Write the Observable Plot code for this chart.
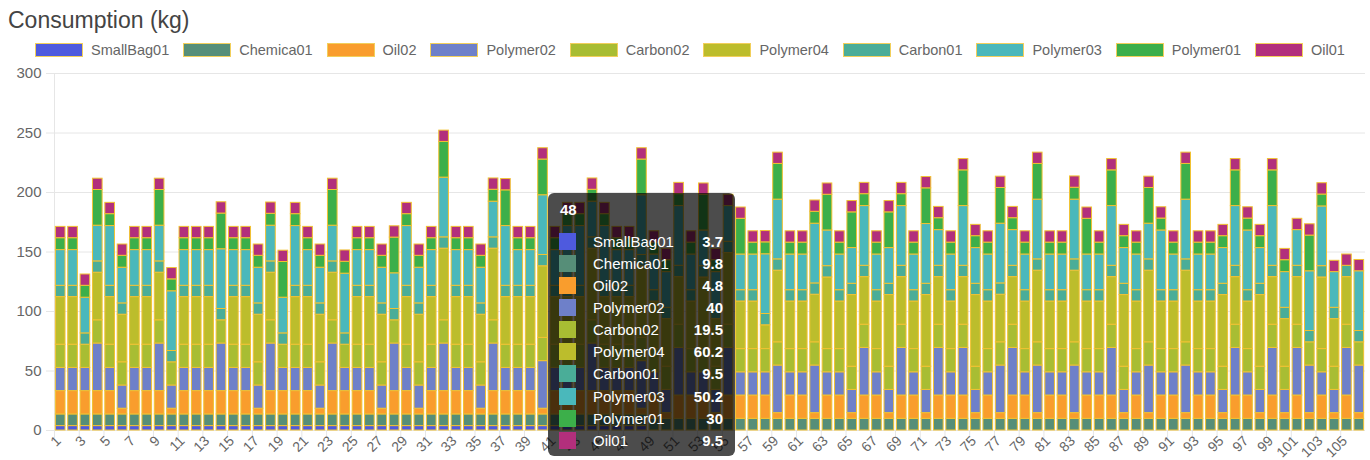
<!DOCTYPE html>
<html><head><meta charset="utf-8">
<script src="https://cdn.jsdelivr.net/npm/d3@7"></script>
<script src="https://cdn.jsdelivr.net/npm/@observablehq/plot@0.6"></script>
<style>
body{margin:0;background:#fff;font-family:"Liberation Sans",Arial,sans-serif;width:1370px;height:460px;overflow:hidden;position:relative}
#title{height:38px;line-height:40px;padding-left:8px;font-size:23px;color:#444}
#legend{height:24px;display:flex;justify-content:center;align-items:center;gap:14px;font-size:14.5px;color:#666;padding-left:10px}
.item{display:flex;align-items:center;gap:8px}
.sw{width:46px;height:12px;border:1px solid #f2cf5b}
#tip{position:absolute;left:548px;top:193px;width:187px;height:263px;background:rgba(0,0,0,0.7);border-radius:6px;color:#fff;font-size:15px}
#tip .t{position:absolute;left:12px;top:8px;line-height:17px;font-weight:bold}
#tip .row{position:absolute;left:0;width:187px;height:22px;display:flex;align-items:center}
#tip .row .s{position:absolute;left:11px;width:17px;height:17px}
#tip .row .l{position:absolute;left:45px}
#tip .row .v{position:absolute;right:12px;font-weight:bold}
#chart{position:absolute;left:0;top:62px}
</style></head><body>
<div id="title">Consumption (kg)</div>
<div id="legend"></div>
<div id="chart"></div>
<div id="tip"></div>
<script>
const categories = [1,2,3,4,5,6,7,8,9,10,11,12,13,14,15,16,17,18,19,20,21,22,23,24,25,26,27,28,29,30,31,32,33,34,35,36,37,38,39,40,41,42,43,44,45,46,47,48,49,50,51,52,53,54,55,56,57,58,59,60,61,62,63,64,65,66,67,68,69,70,71,72,73,74,75,76,77,78,79,80,81,82,83,84,85,86,87,88,89,90,91,92,93,94,95,96,97,98,99,100,101,102,103,104,105,106].map(String);
const tickLabels = [1,3,5,7,9,11,13,15,17,19,21,23,25,27,29,31,33,35,37,39,41,43,45,47,49,51,53,55,57,59,61,63,65,67,69,71,73,75,77,79,81,83,85,87,89,91,93,95,97,99,101,103,105].map(String);
const yTicks = [0,50,100,150,200,250,300];
const seriesNames = ["SmallBag01","Chemica01","Oil02","Polymer02","Carbon02","Polymer04","Carbon01","Polymer03","Polymer01","Oil01"];
const seriesColors = ["#4e5ade","#568e78","#f99d2d","#6e80c9","#a8bd33","#bcbd2c","#4aad98","#4ab8bb","#3caf4a","#b22f7c"];

const smallBag01 = [3.7,3.7,3.7,3.7,3.7,3.7,3.7,3.7,3.7,3.7, 3.7,3.7,3.7,3.7,3.7,3.7,3.7,3.7,3.7,3.7, 3.7,3.7,3.7,3.7,3.7,3.7,3.7,3.7,3.7,3.7, 3.7,3.7,3.7,3.7,3.7,3.7,3.7,3.7,3.7,3.7, 3.7,3.7,3.7,3.7,3.7,3.7,3.7,3.7,0,0, 0,0,0,0,0,0,0,0,0,0, 0,0,0,0,0,0,0,0,0,0, 0,0,0,0,0,0,0,0,0,0, 0,0,0,0,0,0,0,0,0,0, 0,0,0,0,0,0,0,0,0,0, 0,0,0,0,0,0];
const chemica01 = [9.8,9.8,9.8,9.8,9.8,9.8,9.8,9.8,9.8,9.8, 9.8,9.8,9.8,9.8,9.8,9.8,9.8,9.8,9.8,9.8, 9.8,9.8,9.8,9.8,9.8,9.8,9.8,9.8,9.8,9.8, 9.8,9.8,9.8,9.8,9.8,9.8,9.8,9.8,9.8,9.8, 9.8,9.8,9.8,9.8,9.8,9.8,9.8,9.8,9.8,9.8, 9.8,9.8,9.8,9.8,9.8,9.8,9.8,9.8,9.8,9.8, 9.8,9.8,9.8,9.8,9.8,9.8,9.8,9.8,9.8,9.8, 9.8,9.8,9.8,9.8,9.8,9.8,9.8,9.8,9.8,9.8, 9.8,9.8,9.8,9.8,9.8,9.8,9.8,9.8,9.8,9.8, 9.8,9.8,9.8,9.8,9.8,9.8,9.8,9.8,9.8,9.8, 9.8,9.8,9.8,9.8,9.8,9.8];
const oil02 = [19.6,19.6,19.6,19.6,19.6,4.8,19.6,19.6,19.6,4.8, 19.6,19.6,19.6,19.6,19.6,19.6,4.8,19.6,19.6,19.6, 19.6,4.8,19.6,19.6,19.6,19.6,4.8,19.6,19.6,4.8, 19.6,19.6,19.6,19.6,4.8,19.6,19.6,19.6,19.6,4.8, 19.6,19.6,19.6,19.6,19.6,19.6,19.6,4.8,19.6,4.8, 19.6,19.6,19.6,4.8,19.6,19.6,19.6,19.6,4.8,19.6, 19.6,4.8,19.6,19.6,4.8,19.6,19.6,4.8,19.6,19.6, 4.8,19.6,19.6,19.6,4.8,19.6,4.8,19.6,19.6,4.8, 19.6,19.6,4.8,19.6,19.6,19.6,4.8,19.6,4.8,19.6, 19.6,4.8,19.6,19.6,4.8,19.6,19.6,4.8,19.6,4.8, 19.6,4.8,19.6,4.8,19.6,4.8];
const polymer02 = [19.5,19.5,19.5,40,19.5,19.5,19.5,19.5,40,19.5, 19.5,19.5,19.5,40,19.5,19.5,19.5,40,19.5,19.5, 19.5,19.5,40,19.5,19.5,19.5,19.5,40,19.5,19.5, 19.5,40,19.5,19.5,19.5,40,19.5,19.5,19.5,40, 19.5,19.5,19.5,40,19.5,19.5,19.5,40,19.5,19.5, 40,19.5,19.5,19.5,40,19.5,19.5,19.5,40,19.5, 19.5,40,19.5,19.5,19.5,40,19.5,19.5,40,19.5, 19.5,40,19.5,40,19.5,19.5,40,40,19.5,40, 19.5,19.5,40,19.5,19.5,40,19.5,19.5,40,19.5, 19.5,40,19.5,19.5,19.5,40,19.5,19.5,40,19.5, 40,40,19.5,19.5,40,40];
const carbon02 = [19.5,19.5,19.5,19.5,19.5,19.5,19.5,19.5,19.5,19.5, 19.5,19.5,19.5,19.5,19.5,19.5,19.5,19.5,19.5,19.5, 19.5,19.5,19.5,19.5,19.5,19.5,19.5,19.5,19.5,19.5, 19.5,19.5,19.5,19.5,19.5,19.5,19.5,19.5,19.5,19.5, 19.5,19.5,19.5,19.5,19.5,19.5,19.5,19.5,19.5,19.5, 19.5,19.5,19.5,19.5,19.5,19.5,19.5,19.5,19.5,19.5, 19.5,19.5,19.5,19.5,19.5,19.5,19.5,19.5,19.5,19.5, 19.5,19.5,19.5,19.5,19.5,19.5,19.5,19.5,19.5,19.5, 19.5,19.5,19.5,19.5,19.5,19.5,19.5,19.5,19.5,19.5, 19.5,19.5,19.5,19.5,19.5,19.5,19.5,19.5,19.5,19.5, 19.5,19.5,19.5,19.5,19.5,19.5];
const polymer04 = [40,40,0,40,40,40,40,40,40,0, 40,40,40,0,40,40,40,40,0,40, 40,40,40,0,40,40,40,0,40,40, 40,60.2,40,40,40,60.2,40,40,40,60.2, 40,40,40,60.2,40,40,40,60.2,40,40, 40,40,60.2,40,60.2,40,40,20,60.2,40, 40,40,60.2,40,60.2,40,40,60.2,40,40, 60.2,40,40,40,60.2,40,40,40,40,60.2, 40,40,60.2,40,40,40,60.2,40,60.2,40, 40,60.2,40,40,60.2,40,40,60.2,40,40, 40,0,60.2,40,40,0];
const carbon01 = [9.5,9.5,9.5,9.5,9.5,9.5,9.5,9.5,9.5,9.5, 9.5,9.5,9.5,9.5,9.5,9.5,9.5,9.5,9.5,9.5, 9.5,9.5,9.5,9.5,9.5,9.5,9.5,9.5,9.5,9.5, 9.5,9.5,9.5,9.5,9.5,9.5,9.5,9.5,9.5,9.5, 9.5,9.5,9.5,9.5,9.5,9.5,9.5,9.5,9.5,9.5, 9.5,9.5,9.5,9.5,9.5,9.5,9.5,9.5,9.5,9.5, 9.5,9.5,9.5,9.5,9.5,9.5,9.5,9.5,9.5,9.5, 9.5,9.5,9.5,9.5,9.5,9.5,9.5,9.5,9.5,9.5, 9.5,9.5,9.5,9.5,9.5,9.5,9.5,9.5,9.5,9.5, 9.5,9.5,9.5,9.5,9.5,9.5,9.5,9.5,9.5,9.5, 9.5,9.5,9.5,9.5,9.5,9.5];
const polymer03 = [30,30,30,30,50.2,30,30,30,30,50.2, 30,30,30,50.2,30,30,30,30,30,50.2, 30,30,30,50.2,30,30,30,30,50.2,30, 30,50.2,30,30,30,30,50.2,30,30,50.2, 30,50.2,50.2,30,50.2,30,30,50.2,30,30, 50.2,30,30,30,30,30,30,50.2,50.2,30, 30,50.2,30,30,30,50.2,30,30,50.2,30, 50.2,30,30,50.2,30,30,50.2,30,30,50.2, 30,30,50.2,30,30,50.2,30,30,30,50.2, 30,50.2,30,30,30,50.2,50.2,30,50.2,30, 30,50.2,50.2,30,0,50.2];
const polymer01 = [10,10,10,30,10,10,10,10,30,10, 10,10,10,30,10,10,10,10,30,10, 10,10,30,10,10,10,10,30,10,10, 10,30,10,10,10,10,30,10,10,30, 10,10,10,10,10,10,10,30,10,10, 10,10,30,10,0,30,10,10,30,10, 10,10,30,10,30,10,10,30,10,10, 30,10,10,30,10,10,30,10,10,30, 10,10,10,30,10,30,10,10,30,10, 10,30,10,10,10,30,10,10,30,10, 0,30,10,0,0,0];
const oil01 = [9.5,9.5,9.5,9.5,9.5,9.5,9.5,9.5,9.5,9.5, 9.5,9.5,9.5,9.5,9.5,9.5,9.5,9.5,9.5,9.5, 9.5,9.5,9.5,9.5,9.5,9.5,9.5,9.5,9.5,9.5, 9.5,9.5,9.5,9.5,9.5,9.5,9.5,9.5,9.5,9.5, 9.5,9.5,9.5,9.5,9.5,9.5,9.5,9.5,9.5,9.5, 9.5,9.5,9.5,9.5,9.5,9.5,9.5,9.5,9.5,9.5, 9.5,9.5,9.5,9.5,9.5,9.5,9.5,9.5,9.5,9.5, 9.5,9.5,9.5,9.5,9.5,9.5,9.5,9.5,9.5,9.5, 9.5,9.5,9.5,9.5,9.5,9.5,9.5,9.5,9.5,9.5, 9.5,9.5,9.5,9.5,9.5,9.5,9.5,9.5,9.5,9.5, 9.5,9.5,9.5,9.5,9.5,9.5];
const tooltipBar = "48";

const seriesValues = [smallBag01, chemica01, oil02, polymer02, carbon02, polymer04, carbon01, polymer03, polymer01, oil01];
const table = seriesNames.flatMap((name, s) => seriesValues[s].map((v, i) => ({bar: categories[i], series: name, value: v}))).filter(d => d.value > 0);

// legend
const legend = d3.select("#legend");
seriesNames.forEach((n, i) => {
  const it = legend.append("div").attr("class", "item");
  it.append("div").attr("class", "sw").style("background", seriesColors[i]);
  it.append("span").text(n);
});

const W = 1370, ML = 54, MR = 5;
const step = (W - ML - MR) / categories.length;

const chart = Plot.plot({
  width: W, height: 398,
  marginLeft: ML, marginRight: MR, marginTop: 11, marginBottom: 30,
  style: {fontFamily: "Liberation Sans, Arial, sans-serif", fontSize: "14px", color: "#666", background: "transparent", overflow: "visible"},
  x: {type: "band", domain: categories, paddingInner: 0.22, paddingOuter: 0.11, align: 0.5, label: null},
  y: {domain: [0, 300], label: null},
  color: {domain: seriesNames, range: seriesColors},
  marks: [
    Plot.gridY(yTicks, {stroke: "#e6e6e6", strokeOpacity: 1}),
    Plot.axisY(yTicks, {tickSize: 8, tickPadding: 5, stroke: "#e6e6e6", fill: "#666", fontSize: 15, label: null}),
    Plot.ruleX([categories[0]], {y1: 0, y2: 300, dx: -step / 2, stroke: "#e6e6e6"}),
    Plot.ruleX(tickLabels, {y1: 0, y2: 0, insetBottom: -8, dx: -step / 2, stroke: "#e6e6e6"}),
    Plot.axisX(tickLabels, {tickRotate: -45, tickSize: 0, tickPadding: 8, dx: -2, fill: "#666", label: null}),
    Plot.barY(table, Plot.stackY({x: "bar", y: "value", fill: "series", stroke: "#f1c232", strokeWidth: 1}))
  ]
});
document.getElementById("chart").appendChild(chart);

// tooltip for bar 48
const ti = categories.indexOf(tooltipBar);
const tip = d3.select("#tip");
tip.append("div").attr("class", "t").text(tooltipBar);
seriesNames.forEach((n, s) => {
  const r = tip.append("div").attr("class", "row").style("top", (37 + s * 22.15) + "px");
  r.append("div").attr("class", "s").style("background", seriesColors[s]);
  r.append("span").attr("class", "l").text(n);
  r.append("span").attr("class", "v").text(String(seriesValues[s][ti]));
});
</script>
</body></html>
